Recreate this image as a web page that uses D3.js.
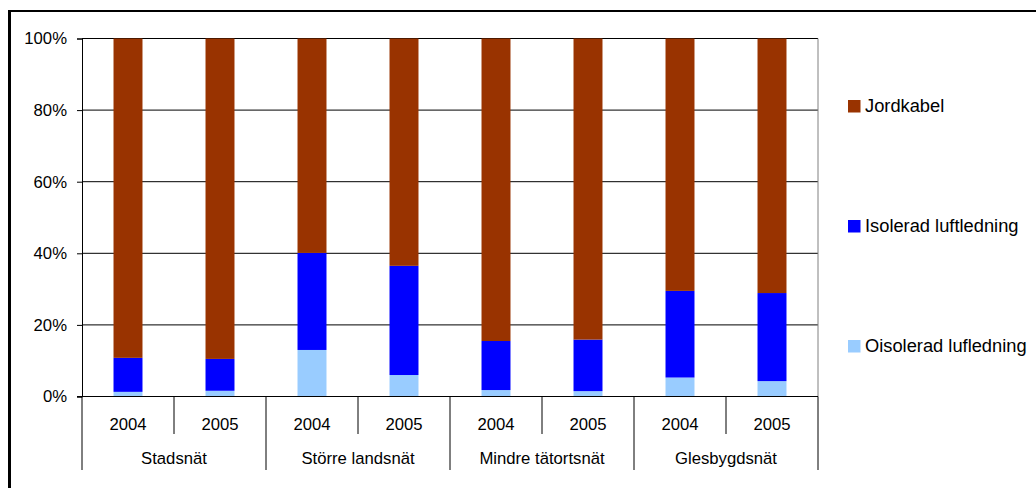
<!DOCTYPE html>
<html>
<head>
<meta charset="utf-8">
<script src="https://cdn.jsdelivr.net/npm/d3@7"></script>
<style>
  html, body { margin: 0; padding: 0; background: #fff; }
  svg { display: block; }
  text { font-family: "Liberation Sans", Arial, sans-serif; fill: #000; }
</style>
</head>
<body>
<svg id="chart" width="1036" height="488"></svg>
<script>
// Network types and years along the x axis
const groups = ["Stadsnät", "Större landsnät", "Mindre tätortsnät", "Glesbygdsnät"];
const years = ["2004", "2005"];

// Share of line length per type (percent), one value per group/year bar
const oisolerad = [1.3, 1.6, 13.0, 6.0, 1.8, 1.5, 5.3, 4.3];
const isolerad  = [9.5, 8.9, 27.1, 30.5, 13.7, 14.4, 24.2, 24.6];
const jordkabel = [89.2, 89.5, 59.9, 63.5, 84.5, 84.1, 70.5, 71.1];

const seriesNames = ["Oisolerad lufledning", "Isolerad luftledning", "Jordkabel"];
const seriesColors = ["#99CCFF", "#0000FF", "#993300"];
const yTicks = [0, 20, 40, 60, 80, 100];

const axisFont = "16.7px";
const legendFont = "18.3px";

// Build one row per bar
const rows = [];
groups.forEach((g, gi) => years.forEach((y, yi) => {
  const i = gi * years.length + yi;
  rows.push({
    key: g + "|" + y, group: g, year: y,
    "Oisolerad lufledning": oisolerad[i],
    "Isolerad luftledning": isolerad[i],
    "Jordkabel": jordkabel[i]
  });
}));

const svg = d3.select("#chart");

// Outer frame
svg.append("line").attr("x1", 9.5).attr("x2", 9.5).attr("y1", 10).attr("y2", 488)
  .attr("stroke", "#000").attr("stroke-width", 3);
svg.append("line").attr("x1", 8).attr("x2", 1036).attr("y1", 11).attr("y2", 11)
  .attr("stroke", "#000").attr("stroke-width", 2);

const plot = { left: 82, right: 818, top: 38.5, bottom: 396.5 };

const x = d3.scaleBand().domain(rows.map(d => d.key))
  .range([plot.left, plot.right]).paddingInner(0.685).paddingOuter(0.3425);
const xOuter = d3.scaleBand().domain(rows.map(d => d.key))
  .range([plot.left, plot.right]);
const y = d3.scaleLinear().domain([0, 100]).range([plot.bottom, plot.top]);

// Gridlines
svg.append("g").selectAll("line").data(yTicks.filter(t => t > 0)).join("line")
  .attr("x1", plot.left).attr("x2", plot.right)
  .attr("y1", d => y(d)).attr("y2", d => y(d))
  .attr("stroke", "#000").attr("stroke-width", 1);

// Plot area right edge
svg.append("line").attr("x1", plot.right).attr("x2", plot.right)
  .attr("y1", plot.top).attr("y2", plot.bottom)
  .attr("stroke", "#808080").attr("stroke-width", 1);

// Stacked bars
const stack = d3.stack().keys(seriesNames)(rows.map(r => ({ ...r })));
svg.append("g").selectAll("g").data(stack).join("g")
  .attr("fill", (d, i) => seriesColors[i])
  .selectAll("rect").data(d => d).join("rect")
  .attr("x", d => x(d.data.key))
  .attr("width", x.bandwidth())
  .attr("y", d => y(d[1]))
  .attr("height", d => y(d[0]) - y(d[1]));

// Y axis
const yAxis = d3.axisLeft(y).tickValues(yTicks).tickFormat(d => d + "%")
  .tickSize(5).tickPadding(10);
const ya = svg.append("g").attr("transform", `translate(${plot.left},0)`).call(yAxis);
ya.select(".domain").attr("stroke", "#000");
ya.selectAll(".tick line").attr("stroke", "#000");
ya.selectAll("text").style("font-size", axisFont).style("font-family", "'Liberation Sans', Arial, sans-serif");

// X axis line at 0%
svg.append("line").attr("x1", plot.left - 5).attr("x2", plot.right)
  .attr("y1", y(0)).attr("y2", y(0)).attr("stroke", "#000");

// Category separators: short ones between years, long ones between groups
const sepG = svg.append("g");
const bounds = d3.range(rows.length + 1);
sepG.selectAll("line").data(bounds).join("line")
  .attr("x1", i => i < rows.length ? xOuter(rows[i].key) : plot.right)
  .attr("x2", i => i < rows.length ? xOuter(rows[i].key) : plot.right)
  .attr("y1", y(0))
  .attr("y2", i => (i % years.length === 0) ? 470 : 434)
  .attr("stroke", "#000").attr("stroke-width", 1);

// Year labels
svg.append("g").selectAll("text").data(rows).join("text")
  .attr("x", d => xOuter(d.key) + xOuter.bandwidth() / 2)
  .attr("y", 429.5)
  .attr("text-anchor", "middle")
  .style("font-size", axisFont)
  .text(d => d.year);

// Group labels
svg.append("g").selectAll("text").data(groups).join("text")
  .attr("x", (g, gi) => xOuter(rows[gi * years.length].key) + xOuter.bandwidth() * years.length / 2)
  .attr("y", 464)
  .attr("text-anchor", "middle")
  .style("font-size", axisFont)
  .text(d => d);

// Legend
const legendItems = seriesNames.slice().reverse();
const legendColors = seriesColors.slice().reverse();
const lg = svg.append("g").selectAll("g").data(legendItems).join("g")
  .attr("transform", (d, i) => `translate(848, ${100 + i * 120})`);
lg.append("rect").attr("width", 12.5).attr("height", 12.5)
  .attr("fill", (d, i) => legendColors[i]);
lg.append("text").attr("x", 17).attr("y", 11.5).style("font-size", legendFont).text(d => d);
</script>
</body>
</html>
